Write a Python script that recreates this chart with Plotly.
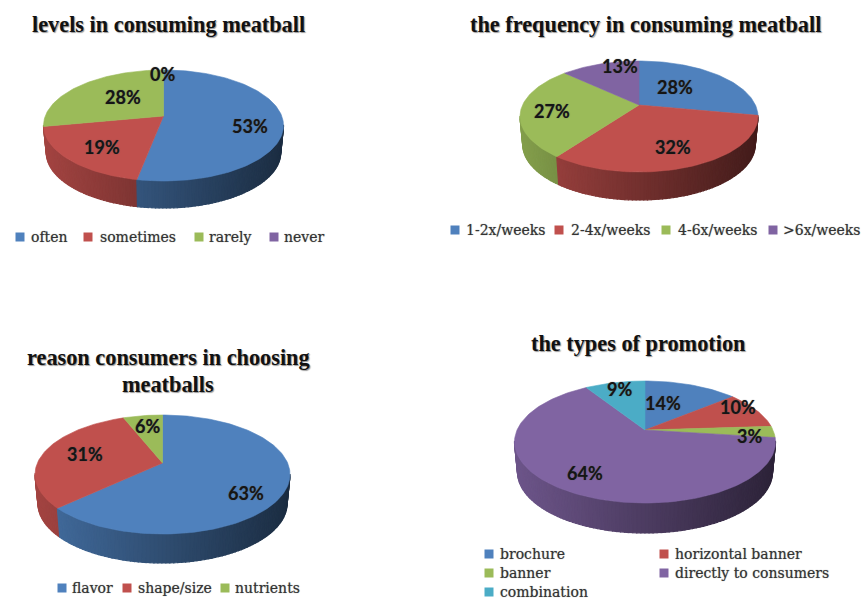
import math
import plotly.graph_objects as go

# ---- data ----
levels_labels = ["often", "sometimes", "rarely", "never"]
levels_values = [53, 19, 28, 0]
frequency_labels = ["1-2x/weeks", "2-4x/weeks", "4-6x/weeks", ">6x/weeks"]
frequency_values = [28, 32, 27, 13]
reason_labels = ["flavor", "shape/size", "nutrients"]
reason_values = [63, 31, 6]
promotion_labels = ["brochure", "horizontal banner", "banner", "directly to consumers", "combination"]
promotion_values = [14, 10, 3, 64, 9]

PALETTE = [(79, 129, 189), (192, 80, 77), (155, 187, 89), (128, 100, 162), (75, 172, 198)]
TITLE_FONT = "Liberation Serif"
LEGEND_FONT = "DejaVu Serif"
LABEL_FONT = "Lato"

# ---- layout of each panel, in page pixels ----
panels = [
    dict(labels=levels_labels, values=levels_values, cx=163.5, ya=116, top=70, bottom=181, rx=120, depth=27,
         title=["levels in consuming meatball"], title_x=168, title_y=[24],
         pct_xy=[(250, 126), (102, 147), (123, 97), (162, 74)],
         leg_marker=[(20, 237), (88, 237), (199, 237), (274, 237)],
         leg_text_x=[29, 98, 207, 282]),
    dict(labels=frequency_labels, values=frequency_values, cx=639, ya=105, top=61, bottom=172, rx=119, depth=28,
         title=["the frequency in consuming meatball"], title_x=645, title_y=[24],
         pct_xy=[(675, 87), (673, 147), (552, 111), (620, 66)],
         leg_marker=[(455, 230), (559, 230), (666, 230), (773, 230)],
         leg_text_x=[464, 569, 676, 781]),
    dict(labels=reason_labels, values=reason_values, cx=162.5, ya=463, top=415, bottom=534, rx=127.5, depth=29,
         title=["reason consumers in choosing", "meatballs"], title_x=168, title_y=[357, 384],
         pct_xy=[(246, 493), (85, 454), (147, 426)],
         leg_marker=[(62, 588), (127, 588), (225, 588)],
         leg_text_x=[70, 136, 233]),
    dict(labels=promotion_labels, values=promotion_values, cx=645, ya=430, top=381, bottom=503, rx=130.5, depth=30,
         title=["the types of promotion"], title_x=638, title_y=[343],
         pct_xy=[(663, 403), (738, 407), (749, 436), (585, 473), (619, 389)],
         leg_marker=[(489, 554), (664, 554), (489, 573), (664, 573), (489, 592)],
         leg_text_x=[498, 673, 498, 673, 498]),
]


def projector(p):
    up, down = p["ya"] - p["top"], p["bottom"] - p["ya"]
    k = (down - up) / (down + up)
    b = up * (1 + k)
    a = p["rx"] * math.sqrt(1 - k * k)

    def project(t, shrink=1.0, drop=0.0):
        X, Y = math.sin(t), math.cos(t)
        w = 1 + k * Y
        return p["cx"] + shrink * a * X / w, p["ya"] - b * Y / w + drop
    return project, k


def rgb(c, f=1.0):
    return "rgb(%d,%d,%d)" % tuple(round(v * f) for v in c)


fig = go.Figure()
annotations = []
for p in panels:
    project, k = projector(p)
    total = sum(p["values"])
    cum = 0
    slices = []
    for i, v in enumerate(p["values"]):
        slices.append((i, 2 * math.pi * cum / total, 2 * math.pi * (cum + v) / total))
        cum += v

    # side wall: thin strips shaded from left to right, painted left to right
    strips = []
    for i, t0, t1 in slices:
        if t1 <= t0:
            continue
        n = max(1, int((t1 - t0) / math.radians(1.5)))
        for j in range(n):
            a0 = t0 + (t1 - t0) * j / n
            a1 = t0 + (t1 - t0) * (j + 1) / n
            if math.cos((a0 + a1) / 2) > -k + 0.02:
                continue
            strips.append((i, a0, a1))
    strips.sort(key=lambda s: project(s[1])[0])
    for i, a0, a1 in strips:
        p0, p1 = project(a0), project(a1)
        q0, q1 = project(a0, 0.977, p["depth"]), project(a1, 0.977, p["depth"])
        mid = ((p0[0] + p1[0]) / 2 - p["cx"]) / p["rx"]
        col = rgb(PALETTE[i], 0.6 - 0.25 * mid)
        fig.add_trace(go.Scatter(
            x=[p0[0], p1[0], q1[0], q0[0], p0[0]], y=[p0[1], p1[1], q1[1], q0[1], p0[1]],
            mode="lines", fill="toself", fillcolor=col, line=dict(color=col, width=1.2),
            hoverinfo="skip", showlegend=False))

    # top face
    for i, t0, t1 in slices:
        if t1 <= t0:
            continue
        n = max(2, int((t1 - t0) / math.radians(1.5)))
        pts = [project(t0 + (t1 - t0) * j / n) for j in range(n + 1)]
        xs = [p["cx"]] + [q[0] for q in pts] + [p["cx"]]
        ys = [p["ya"]] + [q[1] for q in pts] + [p["ya"]]
        fig.add_trace(go.Scatter(
            x=xs, y=ys, mode="lines", fill="toself", fillcolor=rgb(PALETTE[i]),
            line=dict(color=rgb(PALETTE[i]), width=0.6),
            name=p["labels"][i], hoverinfo="name", showlegend=False))

    # percentage labels
    for v, (x, y) in zip(p["values"], p["pct_xy"]):
        annotations.append(dict(x=x, y=y, xref="x", yref="y", text="%d%%" % v, showarrow=False,
                                font=dict(family=LABEL_FONT, size=18, color="#151515",
                                          weight="bold", shadow="0 0 1px #555")))

    # legend entries
    for i, name in enumerate(p["labels"]):
        mx, my = p["leg_marker"][i]
        fig.add_trace(go.Scatter(x=[mx], y=[my], mode="markers",
                                 marker=dict(symbol="square", size=9, color=rgb(PALETTE[i])),
                                 hoverinfo="skip", showlegend=False))
        annotations.append(dict(x=p["leg_text_x"][i], y=my, xref="x", yref="y", text=name, showarrow=False,
                                xanchor="left", yanchor="middle",
                                font=dict(family=LEGEND_FONT, size=14, color="#333333",
                                          shadow="0 0 1px #888")))

    # titles
    for line, ty in zip(p["title"], p["title_y"]):
        annotations.append(dict(x=p["title_x"], y=ty, xref="x", yref="y", text=line, showarrow=False,
                                font=dict(family=TITLE_FONT, size=22.3, color="#111111", weight="bold",
                                          shadow="1px 1px 1px #999")))

fig.update_layout(
    width=864, height=599, margin=dict(l=0, r=0, t=0, b=0),
    paper_bgcolor="white", plot_bgcolor="white", showlegend=False,
    xaxis=dict(range=[0, 864], visible=False, fixedrange=True),
    yaxis=dict(range=[599, 0], visible=False, fixedrange=True),
    annotations=annotations,
)
fig.write_html("out.html", config=dict(displayModeBar=False),
               post_script="document.body.style.margin='0';")
